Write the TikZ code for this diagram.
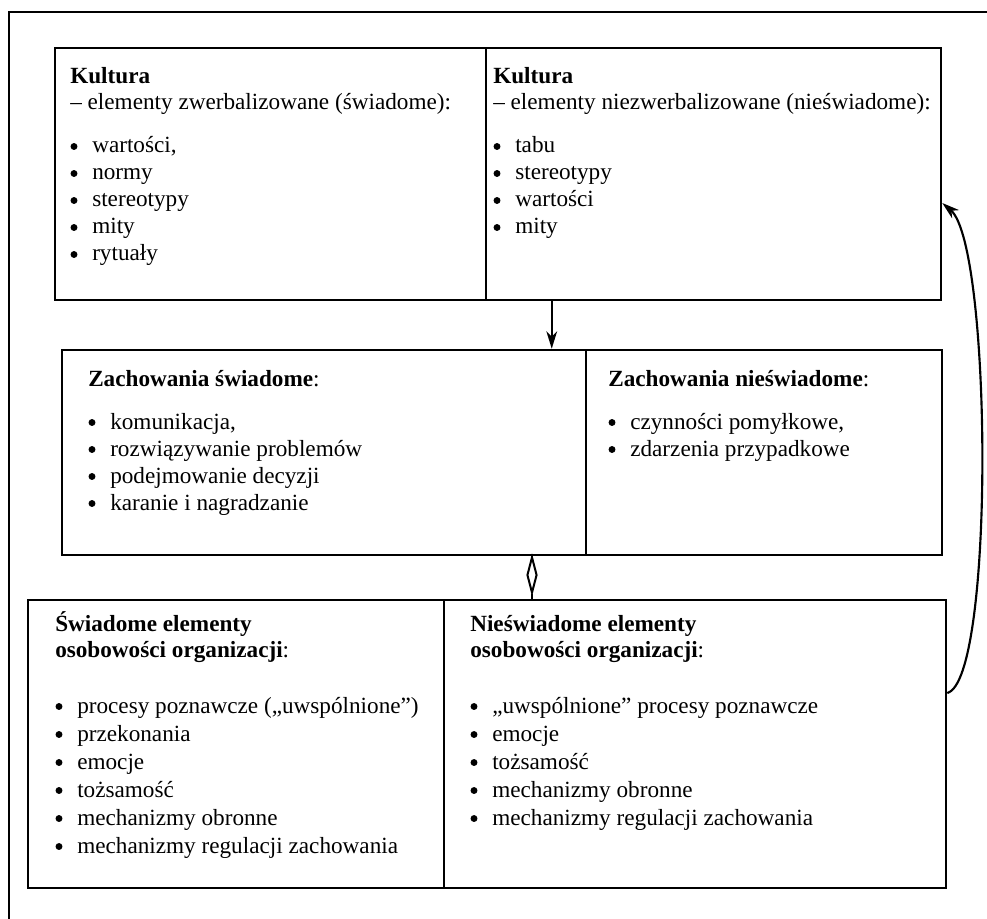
\documentclass[tikz,border=0pt]{standalone}
\usepackage{fontspec}
\setmainfont{Liberation Serif}
\usetikzlibrary{arrows.meta,fit,shapes.geometric}
\begin{document}
\begin{tikzpicture}[x=0.75pt,y=-0.75pt,
  boxpart/.style={draw,line width=1.9pt,inner sep=0pt},
  txt/.style={anchor=base west,inner sep=0pt,font=\fontsize{17.4}{21}\selectfont},
  dot/.style={fill=black},
  conn/.style={line width=1.6pt},
  tip/.style={-{Stealth[length=13pt,width=8pt,inset=4pt]}}]
\useasboundingbox (0,0) rectangle (987,919);
% outer frame (cut by the page)
\draw[line width=1.5pt] (9,919) -- (9,12) -- (987,12);
% boxes
\node[boxpart,fit={(55,48) (486,300)}] (TL) {};
\node[boxpart,fit={(486,48) (941,300)}] (TR) {};
\node[boxpart,fit={(62,350) (586,555)}] (ML) {};
\node[boxpart,fit={(586,350) (942,555)}] (MR) {};
\node[boxpart,fit={(28,600) (444,888)}] (BL) {};
\node[boxpart,fit={(444,600) (946,888)}] (BR) {};
% texts top
\node[txt] (tlh) at (70,84) {\textbf{Kultura}};
\node[txt] (tls) at (70,110) {– elementy zwerbalizowane (świadome):};
\foreach \t [count=\i] in {{wartości,},normy,stereotypy,mity,rytuały}{
  \fill[dot] (74,{153+27*(\i-1)-6.5}) circle (2.6pt);
  \node[txt] (tl\i) at (92,{153+27*(\i-1)}) {\t};}
\node[txt] (trh) at (493,84) {\textbf{Kultura}};
\node[txt] (trs) at (493,110) {– elementy niezwerbalizowane (nieświadome):};
\foreach \t [count=\i] in {tabu,stereotypy,wartości,mity}{
  \fill[dot] (497,{153+27*(\i-1)-6.5}) circle (2.6pt);
  \node[txt] (tr\i) at (515,{153+27*(\i-1)}) {\t};}
% texts middle
\node[txt] (mlh) at (88,386) {\textbf{Zachowania świadome}:};
\foreach \t [count=\i] in {{komunikacja,},rozwiązywanie problemów,podejmowanie decyzji,karanie i nagradzanie}{
  \fill[dot] (92,{429+27*(\i-1)-6.5}) circle (2.6pt);
  \node[txt] (ml\i) at (110,{429+27*(\i-1)}) {\t};}
\node[txt] (mrh) at (608,386) {\textbf{Zachowania nieświadome}:};
\foreach \t [count=\i] in {{czynności pomyłkowe,},zdarzenia przypadkowe}{
  \fill[dot] (612,{429+27*(\i-1)-6.5}) circle (2.6pt);
  \node[txt] (mr\i) at (630,{429+27*(\i-1)}) {\t};}
% texts bottom
\node[txt] (blh) at (55,631) {\textbf{Świadome elementy}};
\node[txt] (bls) at (55,657) {\textbf{osobowości organizacji}:};
\foreach \t [count=\i] in {procesy poznawcze („uwspólnione”),przekonania,emocje,tożsamość,mechanizmy obronne,mechanizmy regulacji zachowania}{
  \fill[dot] (59,{713+28*(\i-1)-6.5}) circle (2.6pt);
  \node[txt] (bl\i) at (77,{713+28*(\i-1)}) {\t};}
\node[txt] (brh) at (470,631) {\textbf{Nieświadome elementy}};
\node[txt] (brs) at (470,657) {\textbf{osobowości organizacji}:};
\foreach \t [count=\i] in {„uwspólnione” procesy poznawcze,emocje,tożsamość,mechanizmy obronne,mechanizmy regulacji zachowania}{
  \fill[dot] (474,{713+28*(\i-1)-6.5}) circle (2.6pt);
  \node[txt] (br\i) at (492,{713+28*(\i-1)}) {\t};}
% connectors
\draw[conn,tip] ([xshift=50.25pt]TR.south west) -- ([xshift=50.25pt]TR.south west |- ML.north);
\node[draw,diamond,line width=1.5pt,inner sep=0pt,minimum width=7.5pt,minimum height=27pt,aspect=0.28] (dia) at (532,575) {};
\draw[conn] (ML.south -| dia.north) -- (dia.north);
\draw[conn] (dia.south) -- (BR.north -| dia.south);
\draw[conn,tip] ([yshift=38.25pt]BR.east) .. controls (995,680) and (992,245) .. ([yshift=-21.75pt]TR.east);
\end{tikzpicture}
\end{document}
